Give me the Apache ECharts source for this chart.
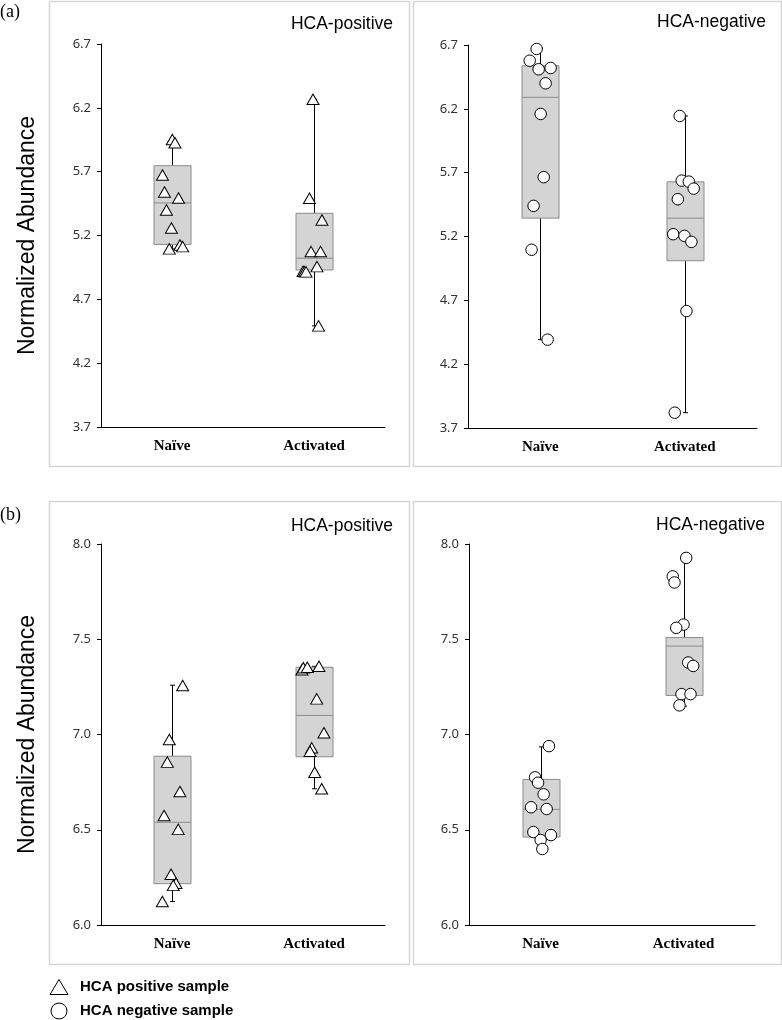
<!DOCTYPE html>
<html>
<head>
<meta charset="utf-8">
<script src="https://cdn.jsdelivr.net/npm/echarts@6/dist/echarts.min.js"></script>
<style>
html,body{margin:0;padding:0;background:#fff;}
#main{width:782px;height:1020px;}
</style>
</head>
<body>
<div id="main"></div>
<script>
// ---------- DATA ----------
const categories = ['Naïve', 'Activated'];
const yTicksA = [3.7, 6.7, 0.5];   // min, max, step (panel a)
const yTicksB = [6.0, 8.0, 0.5];   // min, max, step (panel b)

// Box statistics: [min, Q1, median, Q3, max]
const aPosBox = [[5.095, 5.13, 5.455, 5.747, 5.95], [4.492, 4.93, 5.022, 5.374, 6.267]];
const aNegBox = [[4.392, 5.344, 6.29, 6.538, 6.674], [3.82, 5.01, 5.344, 5.628, 6.144]];
const bPosBox = [[6.123, 6.217, 6.539, 6.886, 7.259], [6.715, 6.883, 7.10, 7.353, 7.358]];
const bNegBox = [[6.403, 6.462, 6.607, 6.764, 6.935], [7.149, 7.205, 7.464, 7.509, 7.927]];

// Individual samples (values) and their horizontal jitter (fraction of category band)
const aPosNaive = [5.952, 5.926, 5.674, 5.541, 5.494, 5.40, 5.259, 5.095, 5.126, 5.113];
const aPosNaiveJit = [0.002, 0.021, -0.067, -0.053, 0.046, -0.039, -0.004, -0.019, 0.056, 0.075];
const aPosAct = [6.267, 5.492, 5.322, 5.074, 5.074, 4.956, 4.92, 4.918, 4.915, 4.492];
const aPosActJit = [-0.007, -0.032, 0.056, -0.021, 0.046, 0.021, -0.077, -0.067, -0.056, 0.032];

const aNegNaive = [6.669, 6.577, 6.51, 6.52, 6.40, 6.16, 5.665, 5.44, 5.096, 4.392];
const aNegNaiveJit = [-0.025, -0.073, -0.011, 0.072, 0.037, 0.003, 0.024, -0.046, -0.060, 0.051];
const aNegAct = [6.144, 5.638, 5.63, 5.575, 5.492, 5.218, 5.205, 5.158, 4.616, 3.82];
const aNegActJit = [-0.035, -0.021, 0.028, 0.062, -0.048, -0.080, -0.002, 0.046, 0.012, -0.069];

const bPosNaive = [7.257, 6.974, 6.855, 6.701, 6.575, 6.502, 6.266, 6.219, 6.208, 6.123];
const bPosNaiveJit = [0.075, -0.019, -0.033, 0.056, -0.056, 0.044, -0.007, 0.028, 0.009, -0.068];
const bPosAct = [7.34, 7.35, 7.353, 7.358, 7.187, 7.009, 6.93, 6.912, 6.802, 6.715];
const bPosActJit = [-0.085, -0.075, -0.047, 0.035, 0.019, 0.070, -0.016, -0.028, 0.005, 0.054];

const bNegNaive = [6.939, 6.775, 6.747, 6.686, 6.618, 6.609, 6.488, 6.472, 6.446, 6.399];
const bNegNaiveJit = [0.059, -0.038, -0.017, 0.022, -0.066, 0.043, -0.050, 0.073, 0.001, 0.013];
const bNegAct = [7.927, 7.83, 7.798, 7.577, 7.56, 7.378, 7.36, 7.212, 7.212, 7.153];
const bNegActJit = [0.019, -0.075, -0.063, 0, -0.051, 0.033, 0.068, -0.014, 0.049, -0.028];

const panelTitles = ['HCA-positive', 'HCA-negative', 'HCA-positive', 'HCA-negative'];
const yAxisName = 'Normalized Abundance';
const legendLabels = ['HCA positive sample', 'HCA negative sample'];

// ---------- BUILD ----------
const chart = echarts.init(document.getElementById('main'), null, {renderer: 'canvas'});

const grids = [
  {left: 101, top: 44, width: 284, height: 383},
  {left: 468, top: 45, width: 289, height: 383},
  {left: 101, top: 544, width: 284, height: 381},
  {left: 469, top: 544, width: 286, height: 381}
];

const panels = [
  {box: aPosBox, pts: [[aPosNaive, aPosNaiveJit], [aPosAct, aPosActJit]], sym: 'triangle', ticks: yTicksA, name: true},
  {box: aNegBox, pts: [[aNegNaive, aNegNaiveJit], [aNegAct, aNegActJit]], sym: 'circle', ticks: yTicksA, name: false},
  {box: bPosBox, pts: [[bPosNaive, bPosNaiveJit], [bPosAct, bPosActJit]], sym: 'triangle', ticks: yTicksB, name: true},
  {box: bNegBox, pts: [[bNegNaive, bNegNaiveJit], [bNegAct, bNegActJit]], sym: 'circle', ticks: yTicksB, name: false}
];

const xAxes = [], yAxes = [], series = [];

function renderBox(params, api) {
  const c = api.value(0);
  const pMin = api.coord([c, api.value(1)]);
  const pQ1 = api.coord([c, api.value(2)]);
  const pMed = api.coord([c, api.value(3)]);
  const pQ3 = api.coord([c, api.value(4)]);
  const pMax = api.coord([c, api.value(5)]);
  const x = Math.round(pMed[0]) + 0.5;
  const hw = 18.5, cap = 2.5;
  const blk = {stroke: '#000', lineWidth: 1};
  const gry = {stroke: '#8c8c8c', lineWidth: 1};
  return {
    type: 'group',
    children: [
      {type: 'line', shape: {x1: x, y1: pQ3[1], x2: x, y2: pMax[1]}, style: blk},
      {type: 'line', shape: {x1: x, y1: pQ1[1], x2: x, y2: pMin[1]}, style: blk},
      {type: 'line', shape: {x1: x - cap, y1: pMax[1], x2: x + cap, y2: pMax[1]}, style: blk},
      {type: 'line', shape: {x1: x - cap, y1: pMin[1], x2: x + cap, y2: pMin[1]}, style: blk},
      {type: 'rect', shape: {x: x - hw, y: pQ3[1], width: hw * 2, height: pQ1[1] - pQ3[1]},
        style: {fill: '#d4d4d4', stroke: '#8c8c8c', lineWidth: 1}},
      {type: 'line', shape: {x1: x - hw, y1: pMed[1], x2: x + hw, y2: pMed[1]}, style: gry}
    ]
  };
}

panels.forEach((p, i) => {
  xAxes.push({
    type: 'category', gridIndex: i, data: categories, boundaryGap: true,
    axisLine: {show: true, onZero: false, lineStyle: {color: '#000', width: 1}},
    axisTick: {show: false},
    axisLabel: {color: '#000', fontFamily: 'Liberation Serif', fontWeight: 'bold', fontSize: 15, margin: 12},
    splitLine: {show: false}
  });
  xAxes.push({
    type: 'value', gridIndex: i, min: -0.5, max: 1.5, show: false,
    axisLine: {onZero: false}
  });
  yAxes.push({
    type: 'value', gridIndex: i, min: p.ticks[0], max: p.ticks[1], interval: p.ticks[2],
    axisLine: {show: true, onZero: false, lineStyle: {color: '#000', width: 1}},
    axisTick: {show: true, inside: false, length: 4, lineStyle: {color: '#000'}},
    axisLabel: {color: '#333', fontFamily: 'Noto Sans', fontSize: 13, margin: 10,
      formatter: v => Number(v).toFixed(1)},
    splitLine: {show: false},
    name: p.name ? yAxisName : '',
    nameLocation: 'middle', nameRotate: 90, nameGap: 62,
    nameTextStyle: {fontFamily: 'Liberation Sans', fontSize: 23, color: '#000'}
  });
  series.push({
    type: 'custom', xAxisIndex: 2 * i, yAxisIndex: i, z: 2,
    renderItem: renderBox,
    encode: {x: 0, y: [1, 2, 3, 4, 5]},
    data: p.box.map((b, c) => [c].concat(b)),
    silent: true
  });
  const pts = [];
  p.pts.forEach((pair, c) => {
    pair[0].forEach((v, k) => pts.push([c + pair[1][k], v]));
  });
  series.push({
    type: 'scatter', xAxisIndex: 2 * i + 1, yAxisIndex: i, z: 5,
    symbol: p.sym, symbolSize: p.sym === 'triangle' ? [12, 10.5] : 11.5,
    itemStyle: {color: '#fff', borderColor: '#000', borderWidth: 1, opacity: 1},
    data: pts, silent: true
  });
});

const frames = [
  [49, 1, 360, 465], [413, 1, 368, 465], [49, 501, 360, 463], [413, 501, 368, 463]
];
const graphics = [];
frames.forEach(f => graphics.push({
  type: 'rect', shape: {x: f[0] + 0.5, y: f[1] + 0.5, width: f[2], height: f[3]},
  style: {fill: 'none', stroke: '#d6d6d6', lineWidth: 1.5}, z: -10, silent: true
}));
const titlePos = [[393, 24], [766, 22], [393, 526], [765, 525]];
panelTitles.forEach((t, i) => graphics.push({
  type: 'text', x: titlePos[i][0], y: titlePos[i][1],
  style: {text: t, align: 'right', verticalAlign: 'middle', fill: '#000',
    font: '17.5px "Liberation Sans"'}
}));
graphics.push({type: 'text', x: 0, y: 12, style: {text: '(a)', verticalAlign: 'middle', fill: '#000', font: '18px "Liberation Serif"'}});
graphics.push({type: 'text', x: 0, y: 515, style: {text: '(b)', verticalAlign: 'middle', fill: '#000', font: '18px "Liberation Serif"'}});
// legend
graphics.push({type: 'polygon', shape: {points: [[59, 979.5], [68, 994.5], [50, 994.5]]},
  style: {fill: '#fff', stroke: '#000', lineWidth: 1}});
graphics.push({type: 'circle', shape: {cx: 59, cy: 1011, r: 8},
  style: {fill: '#fff', stroke: '#000', lineWidth: 1}});
graphics.push({type: 'text', x: 80, y: 987, style: {text: legendLabels[0], verticalAlign: 'middle', fill: '#000', font: 'bold 15px "Liberation Sans"'}});
graphics.push({type: 'text', x: 80, y: 1011, style: {text: legendLabels[1], verticalAlign: 'middle', fill: '#000', font: 'bold 15px "Liberation Sans"'}});

chart.setOption({
  animation: false,
  backgroundColor: '#fff',
  grid: grids,
  xAxis: xAxes,
  yAxis: yAxes,
  series: series,
  graphic: graphics
});
</script>
</body>
</html>
